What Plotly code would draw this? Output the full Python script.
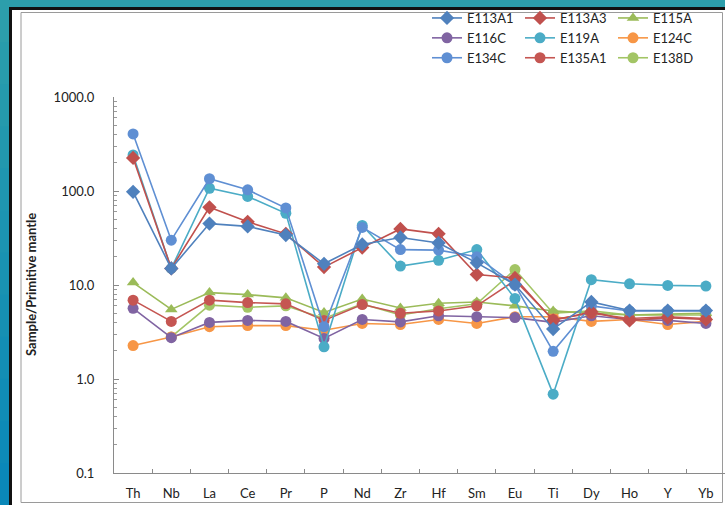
import plotly.graph_objects as go

categories = ["Th", "Nb", "La", "Ce", "Pr", "P", "Nd", "Zr", "Hf", "Sm", "Eu", "Ti", "Dy", "Ho", "Y", "Yb"]

E113A1 = [98, 15, 45, 42, 34, 16.8, 27, 32, 28, 17.2, 10.1, 3.4, 6.6, 5.35, 5.35, 5.35]
E113A3 = [225, 15, 67, 47, 35, 15.5, 25, 39.5, 35, 12.9, 11.9, 4.2, 5.2, 4.2, 4.5, 4.3]
E115A = [10.6, 5.5, 8.3, 7.9, 7.3, 5.1, 7.1, 5.7, 6.4, 6.6, 6.0, 5.3, 5.0, 4.8, 4.9, 5.0]
E116C = [5.65, 2.75, 4.0, 4.2, 4.1, 2.7, 4.3, 4.05, 4.7, 4.6, 4.5, 4.0, 4.7, 4.3, 4.2, 3.9]
E119A = [242, 15, 107, 87.5, 58, 2.2, 43, 15.9, 18.3, 23.8, 7.2, 0.69, 11.4, 10.3, 9.9, 9.75]
E124C = [2.27, 2.8, 3.6, 3.7, 3.7, 3.3, 3.9, 3.8, 4.3, 3.9, 4.6, 4.6, 4.1, 4.3, 3.8, 4.1]
E134C = [405, 30, 135, 103, 66, 3.6, 41, 23.8, 23.5, 20, 10.0, 1.97, 6.0, 5.3, 5.3, 5.3]
E135A1 = [6.9, 4.1, 6.9, 6.5, 6.3, 4.2, 6.2, 5.0, 5.3, 6.0, 11.2, 4.3, 5.0, 4.4, 4.6, 4.4]
E138D = [None, 2.8, 6.1, 5.8, 6.0, 4.4, 6.3, 4.8, 5.6, 6.3, 14.6, 5.0, 5.3, 4.8, 4.8, 4.8]

series_names = ["E113A1", "E113A3", "E115A", "E116C", "E119A", "E124C", "E134C", "E135A1", "E138D"]
series_values = [E113A1, E113A3, E115A, E116C, E119A, E124C, E134C, E135A1, E138D]
colors = ["#4F81BD", "#C0504D", "#9BBB59", "#8064A2", "#4BACC6", "#F79646", "#5F8FD3", "#C55652", "#A3C565"]
symbols = ["diamond", "diamond", "triangle-up", "circle", "circle", "circle", "circle", "circle", "circle"]
sizes = [11, 11, 11, 11, 11, 11, 11, 11, 11]
legend_ids = ["legend", "legend2", "legend3"] * 3
draw_order = ["E138D", "E124C", "E116C", "E115A", "E135A1", "E119A", "E134C", "E113A3", "E113A1"]

W, H = 725, 505
L, R, T, B = 114, 0, 97, 32
PW, PH = W - L - R, H - T - B


def px(x):
    return (x - L) / PW


def py(y):
    return (H - B - y) / PH


fig = go.Figure()
for name in draw_order:
    i = series_names.index(name)
    fig.add_trace(go.Scatter(
        x=categories, y=series_values[i], name=name,
        mode="lines+markers",
        line=dict(color=colors[i], width=1.6),
        marker=dict(symbol=symbols[i], size=sizes[i], color=colors[i]),
        legend=legend_ids[i], legendrank=i + 1,
    ))

# background frame
shapes = []
grad_top = (0x2C, 0x9E, 0xAB)
grad_bot = (0x0A, 0x88, 0xB9)
nb = 12
for k in range(nb):
    t = k / (nb - 1)
    c = tuple(int(grad_top[j] + (grad_bot[j] - grad_top[j]) * t) for j in range(3))
    shapes.append(dict(type="rect", xref="paper", yref="paper", layer="below",
                       x0=px(0), x1=px(W), y0=py(H * k / nb), y1=py(H * (k + 1) / nb + 1),
                       fillcolor="rgb(%d,%d,%d)" % c, line=dict(width=0)))
shapes.append(dict(type="rect", xref="paper", yref="paper", layer="below",
                   x0=px(9), x1=px(W + 5), y0=py(7), y1=py(H + 5),
                   fillcolor="#111111", line=dict(width=0)))
shapes.append(dict(type="rect", xref="paper", yref="paper", layer="below",
                   x0=px(12), x1=px(W + 5), y0=py(10), y1=py(H + 5),
                   fillcolor="#ffffff", line=dict(width=0)))
shapes.append(dict(type="rect", xref="paper", yref="paper", layer="below",
                   x0=px(21), x1=px(722.5), y0=py(12.5), y1=py(502.5),
                   fillcolor="rgba(0,0,0,0)", line=dict(width=1, color="#9a9a9a")))

minor_vals = [k * d for d in [0.1, 1, 10, 100] for k in range(2, 10)]

legend_common = dict(yanchor="top", xanchor="left", orientation="v",
                     bgcolor="rgba(0,0,0,0)", font=dict(size=13), tracegroupgap=0, itemwidth=30)

fig.update_layout(
    width=W, height=H,
    margin=dict(l=L, r=R, t=T, b=B, pad=0),
    paper_bgcolor="#1a93b2",
    plot_bgcolor="rgba(0,0,0,0)",
    font=dict(family="Lato, 'Open Sans', sans-serif", size=13, color="#222222"),
    shapes=shapes,
    xaxis=dict(
        type="category", categoryorder="array", categoryarray=categories,
        range=[-0.5, 15.5], showgrid=False, zeroline=False,
        showline=True, linecolor="#8a8a8a", linewidth=1,
        ticks="inside", tickson="boundaries", ticklen=4, tickcolor="#8a8a8a",
        ticklabelstandoff=8, tickfont=dict(size=13),
    ),
    yaxis=dict(
        type="log", range=[-1, 3], showgrid=False, zeroline=False,
        showline=True, linecolor="#8a8a8a", linewidth=1,
        tickvals=[0.1, 1, 10, 100, 1000],
        ticktext=["0.1", "1.0", "10.0", "100.0", "1000.0"],
        ticks="inside", ticklen=5, tickcolor="#8a8a8a",
        ticklabelstandoff=16, tickfont=dict(size=13),
        minor=dict(tickvals=minor_vals, ticks="inside", ticklen=3, tickcolor="#9a9a9a"),
    ),
    showlegend=True,
    legend=dict(x=px(427), y=py(3), **legend_common),
    legend2=dict(x=px(520), y=py(3), **legend_common),
    legend3=dict(x=px(613), y=py(3), **legend_common),
    annotations=[dict(
        text="<b>Sample/Primitive mantle</b>", textangle=-90,
        xref="paper", yref="paper", x=px(31), y=py(285),
        xanchor="center", yanchor="middle", showarrow=False,
        font=dict(size=13, color="#222222"),
    )],
)

fig.write_html("out.html")
